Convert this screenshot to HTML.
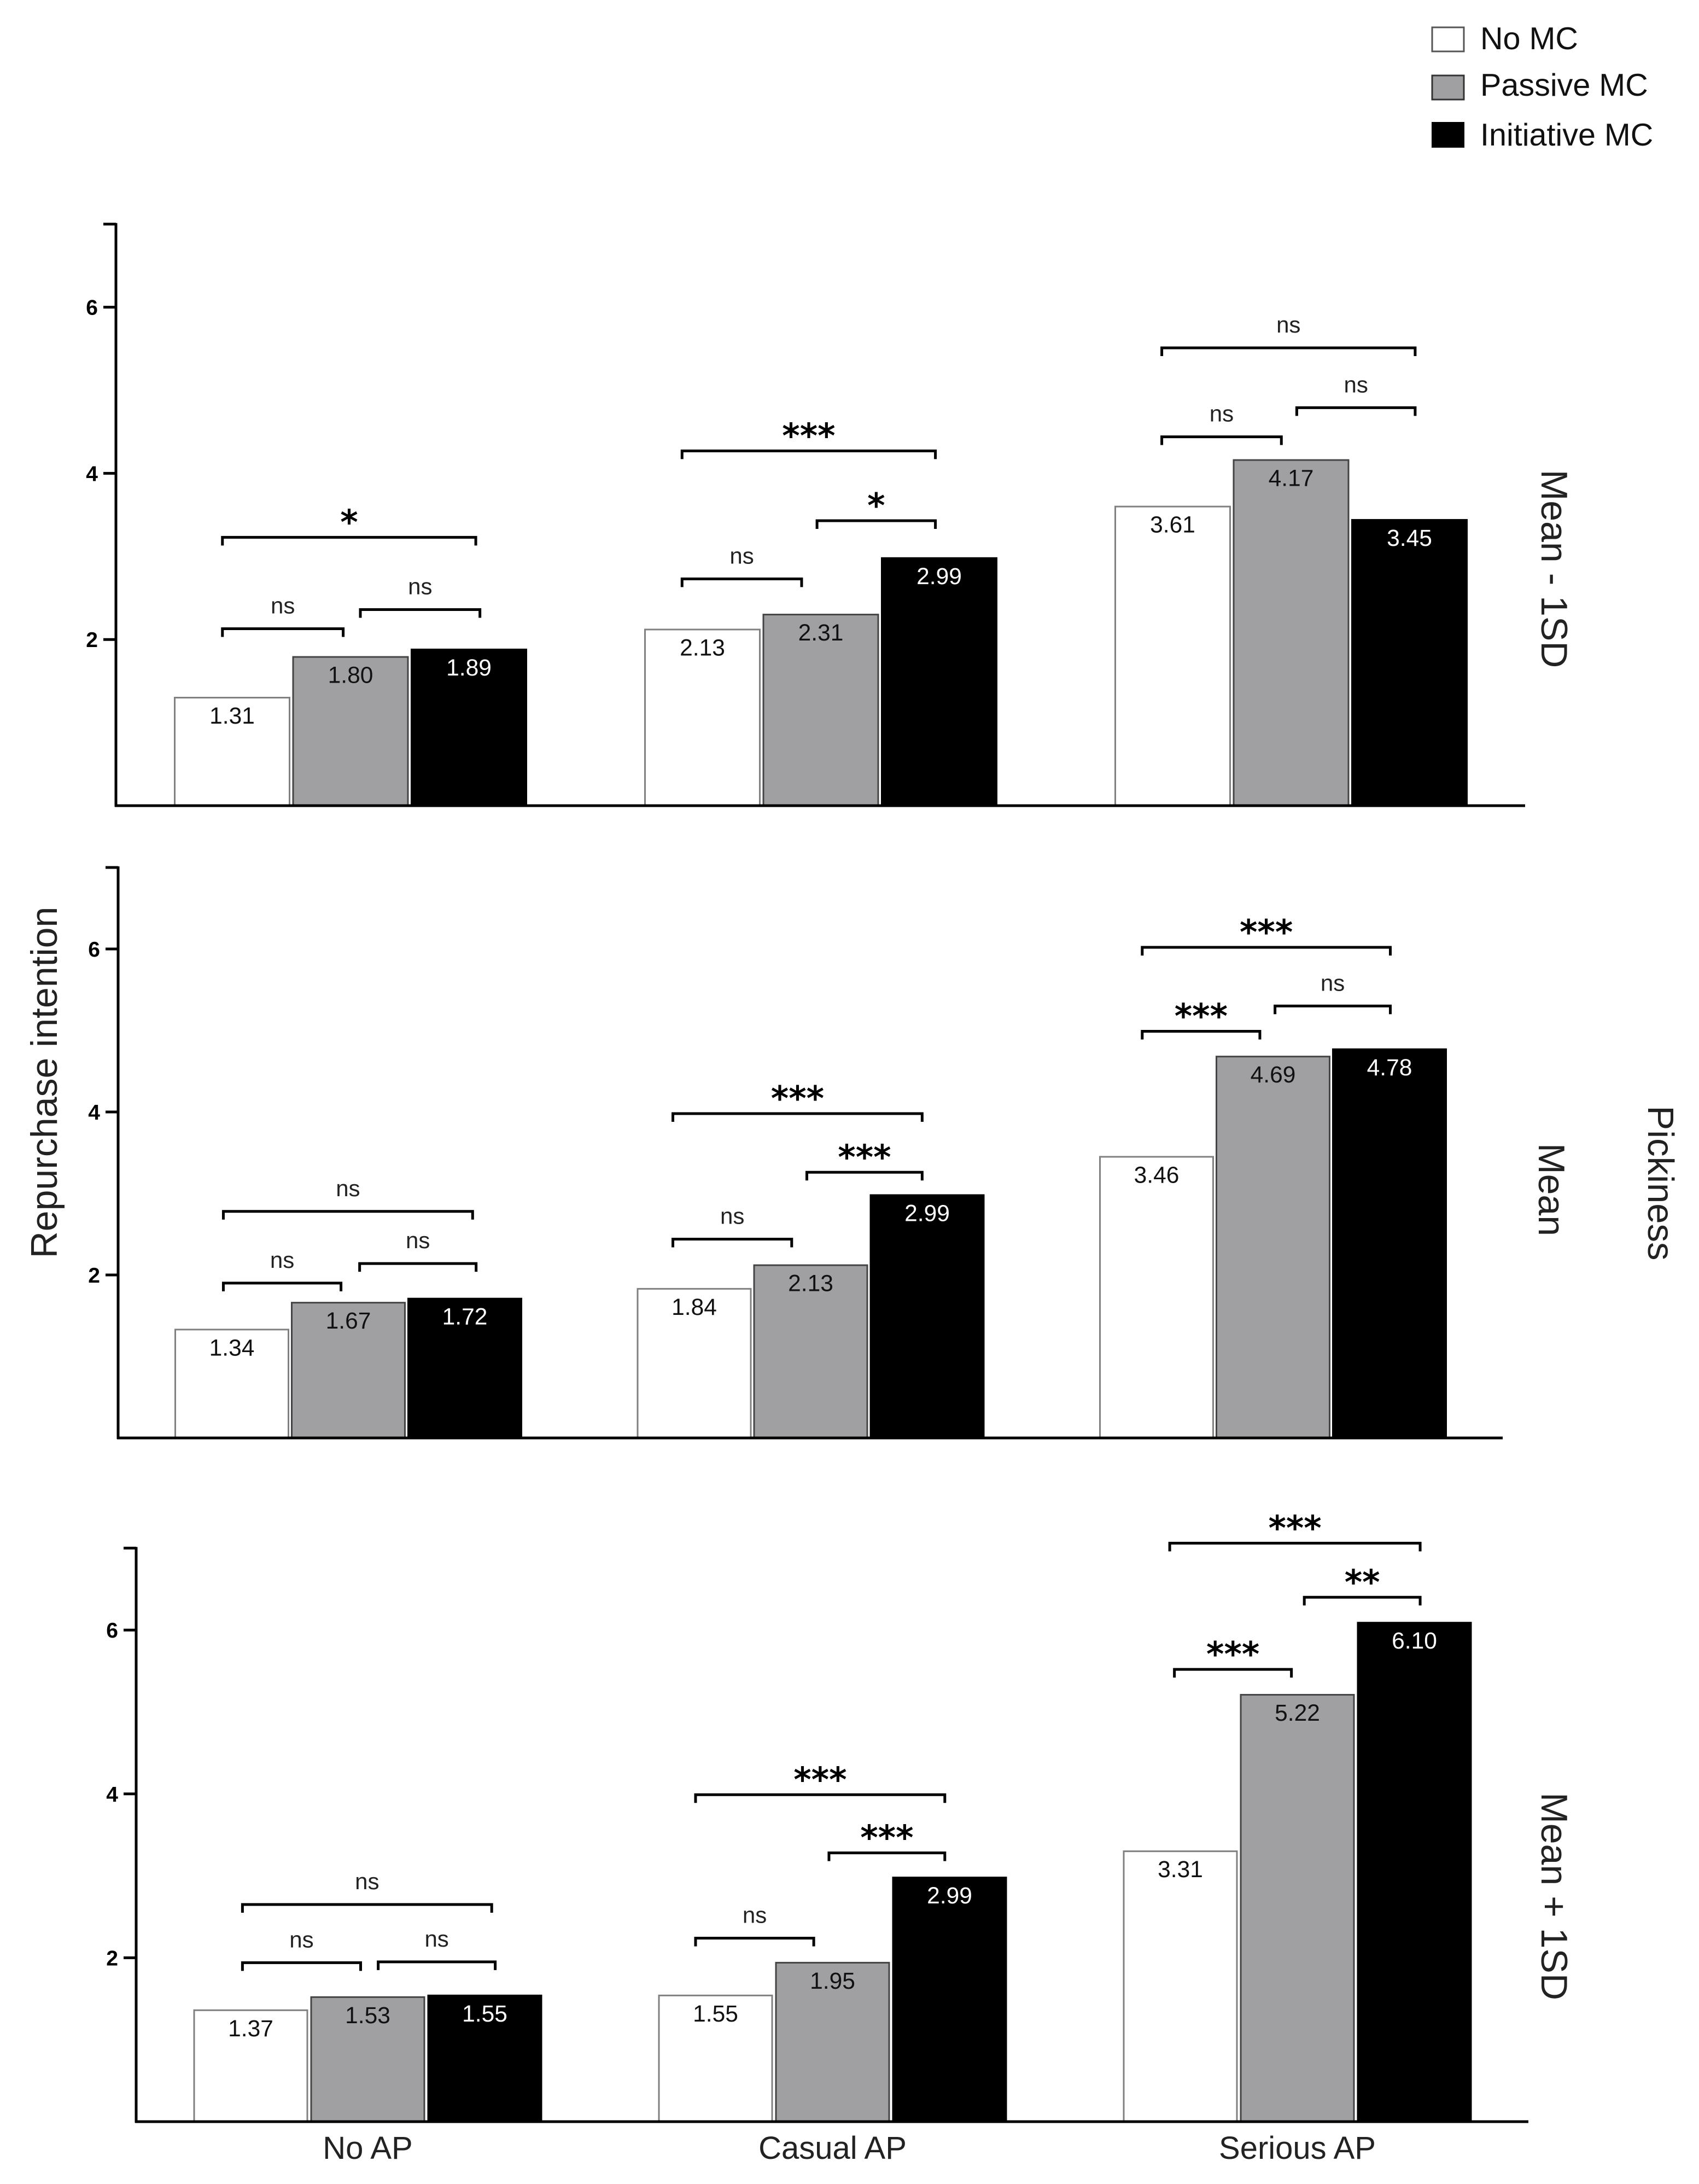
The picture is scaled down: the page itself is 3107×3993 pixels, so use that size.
<!DOCTYPE html>
<html>
<head>
<meta charset="utf-8">
<title>Repurchase intention by AP, MC and pickiness</title>
<style>
html,body{margin:0;padding:0;background:#fff;}
svg{display:block;font-family:"Liberation Sans",Arial,sans-serif;}
</style>
</head>
<body>
<svg id="chart" xmlns="http://www.w3.org/2000/svg" width="3107" height="3993" viewBox="0 0 3107 3993">
  <rect x="0" y="0" width="3107" height="3993" fill="#ffffff"/>
  <g>
    <rect x="2619" y="50" width="58" height="44" fill="#ffffff" stroke="#555555" stroke-width="3"/>
    <text x="2707" y="90" font-size="57.5" fill="#111">No MC</text>
    <rect x="2619" y="138" width="58" height="44" fill="#a0a0a2" stroke="#333333" stroke-width="3"/>
    <text x="2707" y="175" font-size="57.5" fill="#111">Passive MC</text>
    <rect x="2618" y="223" width="60" height="47" fill="#000000"/>
    <text x="2707" y="266" font-size="57.5" fill="#111">Initiative MC</text>
  </g>
  <text transform="translate(104,1979) rotate(-90)" text-anchor="middle" font-size="68" fill="#222">Repurchase intention</text>
  <text transform="translate(3014,2163) rotate(90)" text-anchor="middle" font-size="67" fill="#222">Pickiness</text>
  <text transform="translate(2819,1040) rotate(90)" text-anchor="middle" font-size="68" fill="#222">Mean - 1SD</text>
  <text transform="translate(2814,2175) rotate(90)" text-anchor="middle" font-size="68" fill="#222">Mean</text>
  <text transform="translate(2819,3467) rotate(90)" text-anchor="middle" font-size="68" fill="#222">Mean + 1SD</text>
  <g id="plots"></g>
</svg>
<script>
// ---------- chart data ----------
const categories = ["No AP", "Casual AP", "Serious AP"];
const seriesNames = ["No MC", "Passive MC", "Initiative MC"];
const tickValues = [2, 4, 6];
const axisMax = 7;

// bar values: one row per AP category, one entry per MC series
const meanMinus1sdValues = [[1.31, 1.80, 1.89], [2.13, 2.31, 2.99], [3.61, 4.17, 3.45]];
const meanValues = [[1.34, 1.67, 1.72], [1.84, 2.13, 2.99], [3.46, 4.69, 4.78]];
const meanPlus1sdValues = [[1.37, 1.53, 1.55], [1.55, 1.95, 2.99], [3.31, 5.22, 6.10]];

// significance brackets: per AP category, per bracket
const meanMinus1sdSig = [["*", "ns", "ns"], ["***", "*", "ns"], ["ns", "ns", "ns"]];
const meanMinus1sdLevels = [[3.23, 2.13, 2.36], [4.27, 3.43, 2.73], [5.51, 4.44, 4.79]];
const meanMinus1sdFrom = [[0.41, 0.41, 1.575], [0.32, 1.46, 0.32], [0.40, 0.40, 1.54]];
const meanMinus1sdTo = [[2.55, 1.43, 2.585], [2.46, 2.46, 1.33], [2.54, 1.41, 2.54]];

const meanSig = [["ns", "ns", "ns"], ["***", "***", "ns"], ["***", "***", "ns"]];
const meanLevels = [[2.78, 1.90, 2.14], [3.98, 3.26, 2.44], [6.02, 4.99, 5.30]];
const meanFrom = [[0.42, 0.42, 1.59], [0.31, 1.46, 0.31], [0.37, 0.37, 1.51]];
const meanTo = [[2.56, 1.43, 2.59], [2.45, 2.45, 1.33], [2.50, 1.38, 2.50]];

const meanPlus1sdSig = [["ns", "ns", "ns"], ["***", "***", "ns"], ["***", "**", "***"]];
const meanPlus1sdLevels = [[2.65, 1.94, 1.95], [3.99, 3.28, 2.24], [7.06, 6.40, 5.52]];
const meanPlus1sdFrom = [[0.42, 0.42, 1.58], [0.32, 1.46, 0.32], [0.40, 1.55, 0.44]];
const meanPlus1sdTo = [[2.55, 1.43, 2.58], [2.45, 2.45, 1.33], [2.54, 2.54, 1.44]];

// ---------- panel layout ----------
const panelDefs = [
  {key:"mean-minus-1sd", values:meanMinus1sdValues, sig:meanMinus1sdSig, levels:meanMinus1sdLevels, from:meanMinus1sdFrom, to:meanMinus1sdTo,
   axisX:212, y0:1473, unit:151.9, xEnd:2789, start:318, groupStep:860, barStep:216.5, barW:213, showCats:false},
  {key:"mean", values:meanValues, sig:meanSig, levels:meanLevels, from:meanFrom, to:meanTo,
   axisX:216, y0:2629, unit:149, xEnd:2748, start:319, groupStep:845.5, barStep:213, barW:210, showCats:false},
  {key:"mean-plus-1sd", values:meanPlus1sdValues, sig:meanPlus1sdSig, levels:meanPlus1sdLevels, from:meanPlus1sdFrom, to:meanPlus1sdTo,
   axisX:249, y0:3879, unit:149.8, xEnd:2795, start:353.5, groupStep:850, barStep:214, barW:210, showCats:true}
];
const seriesFill = ["#ffffff", "#a0a0a2", "#000000"];
const seriesStroke = ["#808080", "#444444", "#000000"];
const labelFill = ["#111111", "#111111", "#ffffff"];

const NS = "http://www.w3.org/2000/svg";
const root = document.getElementById("plots");

function make(tag, parent, attrs) {
  const el = document.createElementNS(NS, tag);
  for (const k in attrs) el.setAttribute(k, attrs[k]);
  parent.appendChild(el);
  return el;
}

panelDefs.forEach(function (p) {
  const yScale = function (v) { return p.y0 - v * p.unit; };
  const xScale = function (g, pos) { return p.start + g * p.groupStep + pos * p.barStep; };

  const panel = make("g", root, {});
  
  

  // bars
  p.values.forEach(function (row, g) {
    row.forEach(function (v, s) {
      const x = xScale(g, s);
      const y = yScale(v);
      const bar = make("rect", panel, {x: x + 1.5, y: y + 1.5, width: p.barW - 3, height: p.y0 - y - 1.5,
        fill: seriesFill[s], stroke: seriesStroke[s], "stroke-width": 3});
      
      

      const label = make("text", panel, {x: x + p.barW / 2, y: y + 49, "text-anchor": "middle", "font-size": 42.5, fill: labelFill[s]});
      label.textContent = v.toFixed(2);
      
      
    });
  });

  // axes
  const yAxis = make("line", panel, {x1: p.axisX, x2: p.axisX, y1: yScale(axisMax) - 2, y2: p.y0 + 2, stroke: "#000", "stroke-width": 5});
  
  
  const xAxis = make("line", panel, {x1: p.axisX - 2, x2: p.xEnd, y1: p.y0, y2: p.y0, stroke: "#000", "stroke-width": 5});
  
  

  const topTick = make("line", panel, {x1: p.axisX - 23, x2: p.axisX, y1: yScale(axisMax), y2: yScale(axisMax), stroke: "#000", "stroke-width": 5});
  
  

  tickValues.forEach(function (t) {
    const tick = make("line", panel, {x1: p.axisX - 23, x2: p.axisX, y1: yScale(t), y2: yScale(t), stroke: "#000", "stroke-width": 5});
    
    
    const tl = make("text", panel, {x: p.axisX - 33, y: yScale(t) + 14, "text-anchor": "end", "font-size": 39, "font-weight": "bold", fill: "#000"});
    tl.textContent = String(t);
    
    
  });

  // significance brackets
  p.sig.forEach(function (row, g) {
    row.forEach(function (mark, b) {
      const x1 = xScale(g, p.from[g][b]);
      const x2 = xScale(g, p.to[g][b]);
      const y = yScale(p.levels[g][b]);
      const br = make("path", panel, {d: "M" + x1 + " " + (y + 15) + "V" + y + "H" + x2 + "V" + (y + 15),
        fill: "none", stroke: "#000", "stroke-width": 5});
      
      
      const isStar = mark !== "ns";
      const txt = make("text", panel, isStar
        ? {x: (x1 + x2) / 2, y: y - 6, "text-anchor": "middle", "font-size": 62, "font-weight": "bold", "font-family": '"DejaVu Sans",sans-serif', fill: "#000"}
        : {x: (x1 + x2) / 2, y: y - 28, "text-anchor": "middle", "font-size": 42, fill: "#222"});
      txt.textContent = mark;
      
      
    });
  });

  // category labels (bottom panel only)
  if (p.showCats) {
    categories.forEach(function (c, g) {
      const cat = make("text", panel, {x: xScale(g, 1) + p.barW / 2, y: 3947, "text-anchor": "middle", "font-size": 58, fill: "#222"});
      cat.textContent = c;
      
      
    });
  }
});
</script>
</body>
</html>
